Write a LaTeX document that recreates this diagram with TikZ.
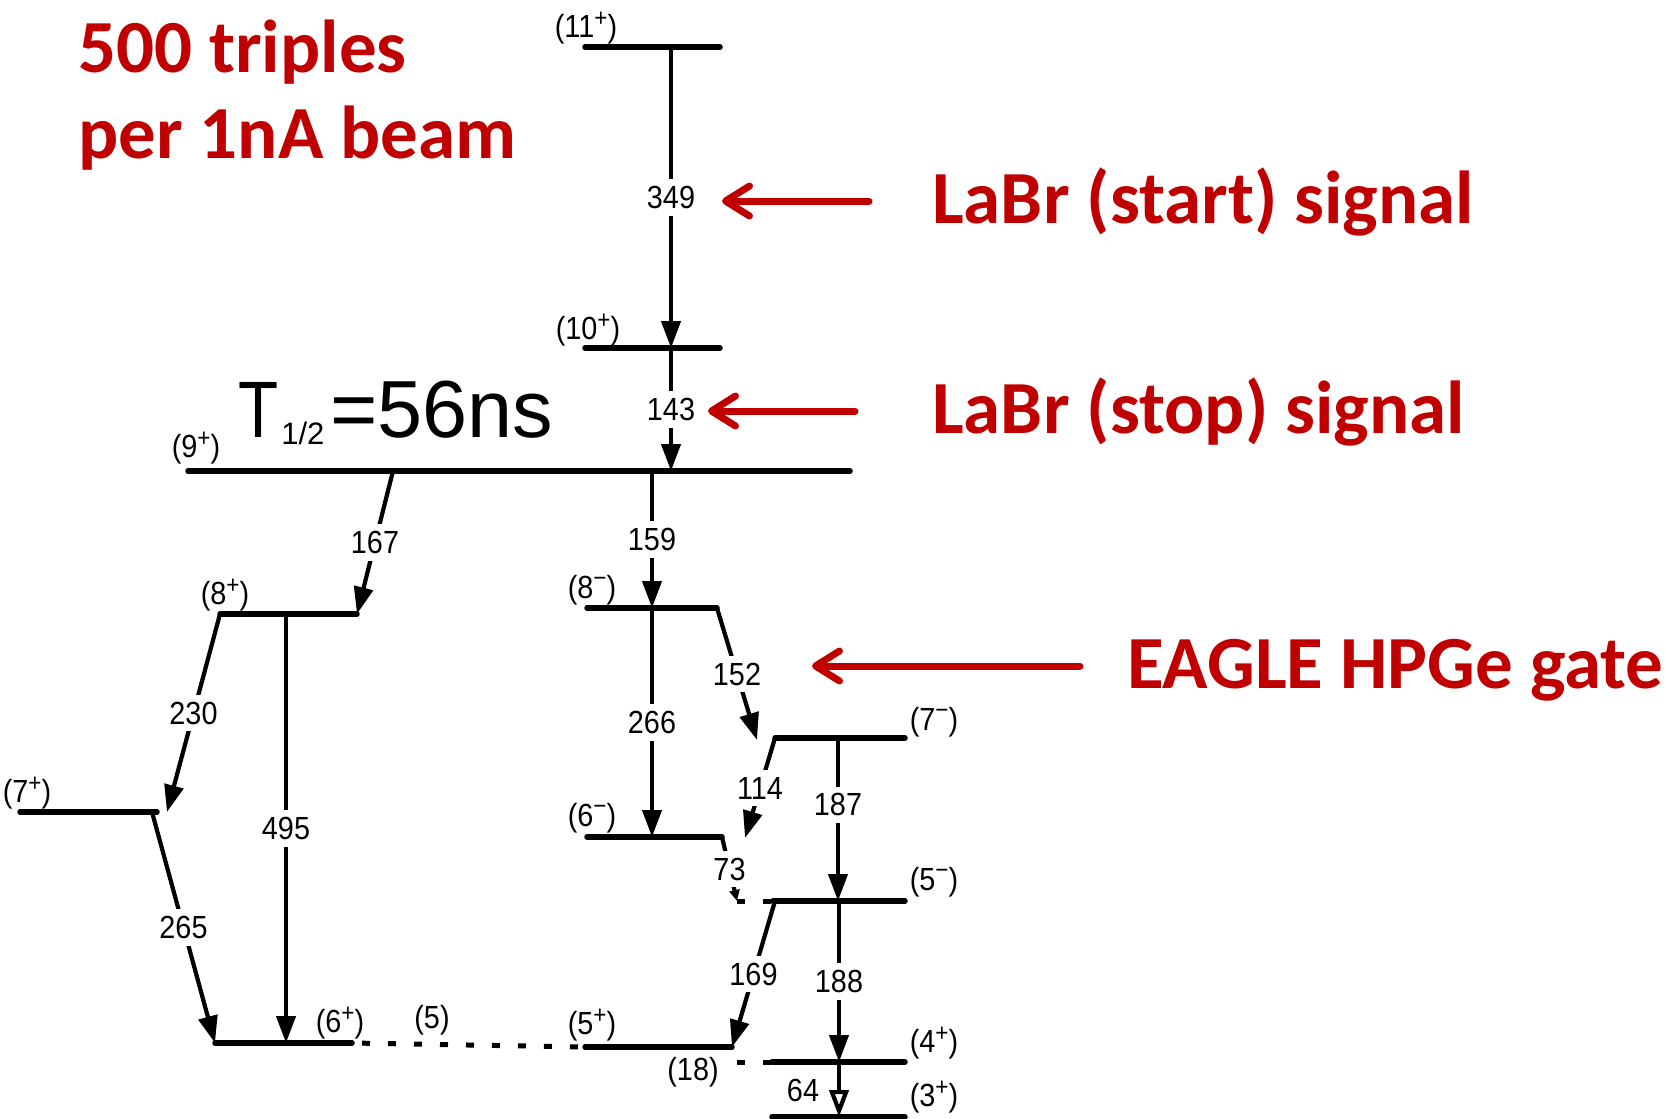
\documentclass[tikz,border=0pt]{standalone}
\usepackage{fontspec}
\usepackage{graphicx}
\usetikzlibrary{arrows.meta}
\newfontfamily\lblfont[FakeStretch=0.9]{Liberation Sans}
\newfontfamily\tfont{Liberation Sans}
\newfontfamily\redfont{Carlito}
\definecolor{darkred}{HTML}{C00000}
\newcommand\mysup[1]{\raisebox{0.36em}{\fontsize{25}{25}\selectfont #1}}
\begin{document}
\begin{tikzpicture}[x=1pt,y=-1pt,
  level/.style={line width=5.5pt,line cap=round},
  trans/.style={line width=4.2pt,-{Triangle[length=27pt,width=19pt]}},
  elab/.style={font=\lblfont\fontsize{32}{32}\selectfont,fill=white,inner xsep=3pt,inner ysep=7pt},
  slab/.style={font=\lblfont\fontsize{32}{32}\selectfont,inner sep=0pt},
  dots/.style={line width=5pt,dash pattern=on 8pt off 18pt},
  redtxt/.style={font=\redfont\bfseries\fontsize{75}{75}\selectfont,text=darkred,anchor=base west,inner sep=0pt},
  redarr/.style={draw=darkred,line width=7pt,line cap=round,-{Straight Barb[length=24pt,width=30pt,round]}}]
\useasboundingbox (0,0) rectangle (1666,1119);

% ---------- levels ----------
\coordinate (L11w) at (585,47);   \coordinate (L11e) at (720,47);
\coordinate (L10w) at (585,348);  \coordinate (L10e) at (720,348);
\coordinate (L9w)  at (188,471);  \coordinate (L9e)  at (850,471);
\coordinate (L8pw) at (220,614);  \coordinate (L8pe) at (357,614);
\coordinate (L8mw) at (587,608);  \coordinate (L8me) at (717,608);
\coordinate (L7mw) at (775,738);  \coordinate (L7me) at (905,738);
\coordinate (L7pw) at (20,812);   \coordinate (L7pe) at (157,812);
\coordinate (L6mw) at (587,837);  \coordinate (L6me) at (722,837);
\coordinate (L5mw) at (773,901);  \coordinate (L5me) at (905,901);
\coordinate (L6pw) at (215,1043); \coordinate (L6pe) at (352,1043);
\coordinate (L5pw) at (585,1047); \coordinate (L5pe) at (732,1047);
\coordinate (L4pw) at (772,1062); \coordinate (L4pe) at (905,1062);
\coordinate (L3pw) at (772,1117); \coordinate (L3pe) at (905,1117);

\foreach \l in {L11,L10,L9,L8p,L8m,L7m,L7p,L6m,L5m,L6p,L5p,L4p,L3p}
  \draw[level] (\l w) -- (\l e);

% dotted continuations
\coordinate (d2a) at (737,901);
\coordinate (d3a) at (737,1062);
\draw[dots,dash phase=-10pt] (L6pe) -- (L5pw);
\draw[dots] (d2a) -- (L5mw);
\draw[dots] (d3a) -- (L4pw);

% ---------- transitions ----------
\coordinate (a349) at (671,47);   \coordinate (b349) at (671,348);
\coordinate (a143) at (671,348);  \coordinate (b143) at (671,471);
\coordinate (a167) at (393,471);
\coordinate (a159) at (652,471);  \coordinate (b159) at (652,608);
\coordinate (b230) at (167,812);
\coordinate (a495) at (286,614);  \coordinate (b495) at (286,1043);
\coordinate (a265) at (152,812);
\coordinate (a266) at (652,608);  \coordinate (b266) at (652,837);
\coordinate (b152) at (757,740);
\coordinate (b114) at (745,838);
\coordinate (a187) at (838,738);  \coordinate (b187) at (838,901);
\coordinate (a169) at (775,901);
\coordinate (a188) at (839,901);  \coordinate (b188) at (839,1062);
\coordinate (a64)  at (839,1062); \coordinate (b64)  at (839,1117);

\draw[trans] (a349) -- node[elab]{349} (b349);
\draw[trans] (a143) -- node[elab]{143} (b143);
\draw[trans] (a167) -- node[elab]{167} (L8pe);
\draw[trans] (a159) -- node[elab]{159} (b159);
\draw[trans] (L8pw) -- node[elab]{230} (b230);
\draw[trans] (a495) -- node[elab]{495} (b495);
\draw[trans] (a265) -- node[elab]{265} (L6pw);
\draw[trans] (a266) -- node[elab]{266} (b266);
\draw[trans] (L8me) -- node[elab]{152} (b152);
\draw[trans] (L7mw) -- node[elab]{114} (b114);
\draw[trans] (a187) -- node[elab,pos=0.41]{187} (b187);
\draw[line width=4.2pt,-{Triangle[length=11pt,width=10pt]}] (L6me) -- node[elab]{73} (d2a);
\draw[trans] (a169) -- node[elab]{169} (L5pe);
\draw[trans] (a188) -- node[elab]{188} (b188);
\draw[line width=4.2pt,-{Triangle[open,length=27pt,width=19pt,fill=white]}] (a64) -- (b64);
\node[slab] (e64) at (803,1090) {64};

% ---------- level labels ----------
\node[slab] (s11) at (586,28)   {(11\mysup{+})};
\node[slab] (s10) at (588,330)  {(10\mysup{+})};
\node[slab] (s9)  at (196,448)  {(9\mysup{+})};
\node[slab] (s8p) at (225,595)  {(8\mysup{+})};
\node[slab] (s8m) at (592,590)  {(8\mysup{−})};
\node[slab] (s7m) at (934,722)  {(7\mysup{−})};
\node[slab] (s7p) at (27,793)   {(7\mysup{+})};
\node[slab] (s6m) at (592,818)  {(6\mysup{−})};
\node[slab] (s5m) at (934,882)  {(5\mysup{−})};
\node[slab] (s6p) at (340,1023) {(6\mysup{+})};
\node[slab] (s5)  at (432,1020) {(5)};
\node[slab] (s5p) at (592,1025) {(5\mysup{+})};
\node[slab] (s4p) at (934,1043) {(4\mysup{+})};
\node[slab] (s3p) at (934,1097) {(3\mysup{+})};
\node[slab] (s18) at (693,1072) {(18)};

% ---------- half-life ----------
\node[anchor=base west,inner sep=0pt,font=\tfont\fontsize{80}{80}\selectfont] (thalf) at (238,437)
  {\scalebox{0.82}[1]{T}\kern3pt\raisebox{-7pt}{\fontsize{31}{31}\selectfont 1/2}\kern6pt{\fontsize{81}{81}\selectfont =56ns}};

% ---------- red annotations ----------
\node[redtxt] (rt1) at (78,72)   {500 triples};
\node[redtxt] (rt2) at (78,158)  {per 1nA beam};
\node[redtxt] (rst) at (932,223) {LaBr (start) signal};
\node[redtxt] (rsp) at (932,433) {LaBr (stop) signal};
\node[redtxt] (reg) at (1127,688) {EAGLE HPGe gate};

\coordinate (r1s) at (869,201);  \coordinate (r1e) at (722,201);
\coordinate (r2s) at (855,411);  \coordinate (r2e) at (708,411);
\coordinate (r3s) at (1080,666); \coordinate (r3e) at (812,666);
\draw[redarr] (r1s) -- (r1e);
\draw[redarr] (r2s) -- (r2e);
\draw[redarr] (r3s) -- (r3e);
\end{tikzpicture}
\end{document}
